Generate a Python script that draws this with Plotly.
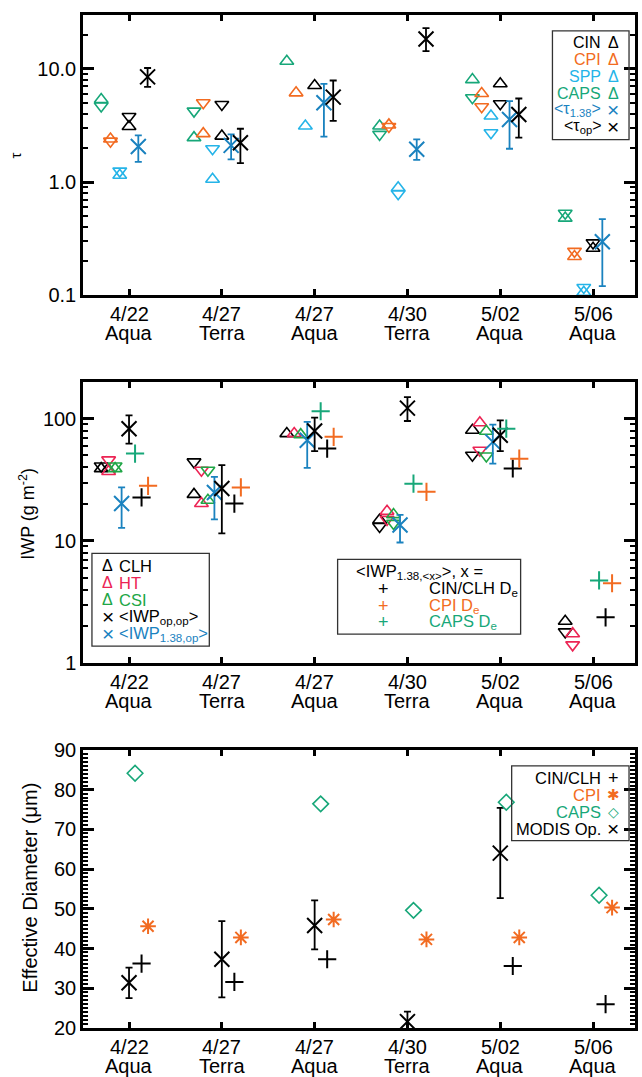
import plotly.graph_objects as go

# ---------------- data ----------------
dates = ["4/22", "4/27", "4/27", "4/30", "5/02", "5/06"]
sats = ["Aqua", "Terra", "Aqua", "Terra", "Aqua", "Aqua"]

# Panel 1: optical depth tau (up / down triangles)
tau_cin_up = [3.1, 2.55, 7.14, None, 7.39, 0.26]
tau_cin_dn = [3.8, 4.85, None, None, 4.92, 0.29]
tau_cpi_up = [2.4, 2.68, 6.15, 3.2, 6.07, 0.22]
tau_cpi_dn = [2.3, 5.02, None, 3.1, 4.63, 0.244]
tau_spp_up = [1.15, 1.06, 3.13, 0.89, 3.84, 0.106]
tau_spp_dn = [1.25, 1.97, None, 0.79, 2.73, 0.117]
tau_caps_up = [5.37, 2.47, 11.7, 3.13, 8.05, 0.48]
tau_caps_dn = [4.70, 4.24, None, 2.64, 5.56, 0.53]
tau_138 = [2.06, 2.11, 5.02, 1.95, 3.58, 0.297]
tau_138_hi = [2.59, 2.64, 7.39, 2.38, 5.2, 0.47]
tau_138_lo = [1.51, 1.59, 2.52, 1.57, 1.97, 0.12]
tau_op = [8.51, 2.23, 5.64, 18.4, 3.96, None]
tau_op_hi = [10.2, 2.96, 7.91, 23.0, 5.48, None]
tau_op_lo = [6.95, 1.47, 3.47, 14.4, 2.47, None]

# Panel 2: IWP (g m-2)
iwp_clh_up = [39, 24.0, 75.5, 14.8, 80.4, 2.2]
iwp_clh_dn = [41, 44.3, None, 13.1, 50.2, 1.8]
iwp_ht_up = [37, 20.2, 75.5, 17.5, 92.7, 1.74]
iwp_ht_dn = [46, 37.9, None, 15.0, 55.2, 1.41]
iwp_csi_up = [39, 21.5, 74, 16.4, 78.9, None]
iwp_csi_dn = [41, 37.9, None, 13.9, 49.5, None]
iwp_138 = [20.2, 24.9, 66.7, 13.5, 64.6, None]
iwp_138_hi = [27.4, 33.4, 94, 16.3, 89.3, None]
iwp_138_lo = [12.8, 15.0, 39.6, 9.7, 42.9, None]
iwp_op = [82.8, 26.8, 79.4, 122, 73.1, None]
iwp_op_hi = [106.6, 41.7, 102, 150, 97, None]
iwp_op_lo = [62.5, 11.5, 54.2, 95.7, 54.2, None]
iwp_cin_de = [22.7, 20.2, 56.9, None, 39.1, 2.37]
iwp_cpi_de = [28.2, 27.4, 71, 25.2, 47.1, 4.5]
iwp_caps_de = [51.8, None, 115, 29.4, 82.8, 4.75]

# Panel 3: effective diameter (um)
de_modis = [31.4, 37.3, 45.8, 21.6, 64.0, None]
de_modis_hi = [35.2, 46.9, 52.1, 24.1, 75.4, None]
de_modis_lo = [27.5, 27.7, 39.8, 19.0, 52.7, None]
de_cin = [36.2, 31.6, 37.3, None, 35.6, 26.0]
de_cpi = [45.6, 42.8, 47.3, 42.3, 42.8, 50.3]
de_caps = [84.1, None, 76.4, 49.6, 76.8, 53.4]

# ---------------- style ----------------
BLACK = "#000000"
ORANGE = "#F26B21"
SPPBLUE = "#25B4E8"
TEAL = "#17A779"
BLUE = "#1A82BF"
CRIMSON = "#EC2454"
GREEN = "#20A646"
FONT = "Liberation Sans, Arial, sans-serif"

W, H = 642, 1077
PL, PR, PT, PB = 83, 638, 12, 1028


def fx(px):
    return (px - PL) / (PR - PL)


def fy(py):
    return (PB - py) / (PB - PT)


fig = go.Figure()


def add(vals, off, symbol, color, size, ax, lw=1.6, hi=None, lo=None):
    xs = [i + off for i in range(len(vals))]
    tr = dict(x=xs, y=vals, mode="markers", showlegend=False,
              xaxis="x" if ax == 1 else f"x{ax}",
              yaxis="y" if ax == 1 else f"y{ax}",
              marker=dict(symbol=symbol, size=size, color=color,
                          line=dict(color=color, width=lw)),
              cliponaxis=True)
    if hi is not None:
        tr["error_y"] = dict(type="data", symmetric=False,
                             array=[(h - v) if v is not None else 0 for h, v in zip(hi, vals)],
                             arrayminus=[(v - l) if v is not None else 0 for l, v in zip(lo, vals)],
                             color=color, thickness=1.8, width=3.5)
    fig.add_trace(go.Scatter(**tr))


TRI = 12
# panel 1
add(tau_caps_up, -0.3, "triangle-up-open", TEAL, TRI, 1)
add(tau_caps_dn, -0.3, "triangle-down-open", TEAL, TRI, 1)
add(tau_cpi_up, -0.2, "triangle-up-open", ORANGE, TRI, 1)
add(tau_cpi_dn, -0.2, "triangle-down-open", ORANGE, TRI, 1)
add(tau_spp_up, -0.1, "triangle-up-open", SPPBLUE, TRI, 1)
add(tau_spp_dn, -0.1, "triangle-down-open", SPPBLUE, TRI, 1)
add(tau_cin_up, 0.0, "triangle-up-open", BLACK, TRI, 1)
add(tau_cin_dn, 0.0, "triangle-down-open", BLACK, TRI, 1)
add(tau_138, 0.1, "x-thin-open", BLUE, 15, 1, lw=2, hi=tau_138_hi, lo=tau_138_lo)
add(tau_op, 0.2, "x-thin-open", BLACK, 15, 1, lw=2, hi=tau_op_hi, lo=tau_op_lo)

# panel 2
add(iwp_clh_up, -0.3, "triangle-up-open", BLACK, TRI, 2)
add(iwp_clh_dn, -0.3, "triangle-down-open", BLACK, TRI, 2)
add(iwp_ht_up, -0.22, "triangle-up-open", CRIMSON, TRI, 2)
add(iwp_ht_dn, -0.22, "triangle-down-open", CRIMSON, TRI, 2)
add(iwp_csi_up, -0.15, "triangle-up-open", GREEN, TRI, 2)
add(iwp_csi_dn, -0.15, "triangle-down-open", GREEN, TRI, 2)
add(iwp_138, -0.08, "x-thin-open", BLUE, 15, 2, lw=2, hi=iwp_138_hi, lo=iwp_138_lo)
add(iwp_op, 0.0, "x-thin-open", BLACK, 15, 2, lw=2, hi=iwp_op_hi, lo=iwp_op_lo)
add(iwp_caps_de, 0.065, "cross-thin-open", TEAL, 13, 2, lw=2)
add(iwp_cin_de, 0.135, "cross-thin-open", BLACK, 13, 2, lw=2)
add(iwp_cpi_de, 0.205, "cross-thin-open", ORANGE, 13, 2, lw=2)

# panel 3
add(de_modis, 0.0, "x-thin-open", BLACK, 15, 3, lw=2, hi=de_modis_hi, lo=de_modis_lo)
add(de_caps, 0.065, "diamond-open", TEAL, 12, 3, lw=1.6)
add(de_cin, 0.135, "cross-thin-open", BLACK, 13, 3, lw=2)
add(de_cpi, 0.205, "asterisk-open", ORANGE, 13, 3, lw=2)

# ---------------- axes ----------------
XR = [-0.496, 5.452]
xcommon = dict(range=XR, tickmode="array", tickvals=list(range(6)), showticklabels=False,
               ticks="inside", ticklen=6, tickwidth=2.5, tickcolor="black",
               showline=True, linewidth=2.5, linecolor="black", mirror="allticks",
               showgrid=False, zeroline=False)
ycommon = dict(ticks="inside", ticklen=11, tickwidth=2.5, tickcolor="black",
               showline=True, linewidth=2.5, linecolor="black", mirror="allticks",
               showgrid=False, zeroline=False,
               tickfont=dict(family=FONT, size=20, color="black"))

minor1 = [k * 10 ** e for e in (-1, 0, 1) for k in range(2, 10) if k * 10 ** e <= 30]
minor2 = [k * 10 ** e for e in (0, 1, 2) for k in range(2, 10) if k * 10 ** e <= 200]

dom1 = [fy(293), 1.0]
dom2 = [fy(662), fy(380)]
dom3 = [0.0, fy(749)]

fig.update_layout(
    width=W, height=H,
    margin=dict(l=PL, r=W - PR, t=PT, b=H - PB),
    paper_bgcolor="white", plot_bgcolor="white",
    font=dict(family=FONT, color="black"),
    xaxis=dict(**xcommon, anchor="y"),
    xaxis2=dict(**xcommon, anchor="y2"),
    xaxis3=dict(**xcommon, anchor="y3"),
    yaxis=dict(**ycommon, type="log", range=[-1, 1.4771], domain=dom1, anchor="x",
               tickmode="array", tickvals=[0.1, 1, 10], ticktext=["0.1", "1.0", "10.0"],
               minor=dict(tickmode="array", tickvals=minor1, ticks="inside", ticklen=5,
                          tickwidth=2, tickcolor="black")),
    yaxis2=dict(**ycommon, type="log", range=[0, 2.301], domain=dom2, anchor="x2",
                tickmode="array", tickvals=[1, 10, 100], ticktext=["1", "10", "100"],
                minor=dict(tickmode="array", tickvals=minor2, ticks="inside", ticklen=5,
                           tickwidth=2, tickcolor="black")),
    yaxis3=dict(**ycommon, range=[20, 90], domain=dom3, anchor="x3",
                tickmode="linear", tick0=20, dtick=10,
                minor=dict(dtick=1, ticks="inside", ticklen=5, tickwidth=1.5,
                           tickcolor="black")),
)

ann = []
shapes = []

# x category labels (two lines)
for k, yref in ((1, "y domain"), (2, "y2 domain"), (3, "y3 domain")):
    xref = "x" if k == 1 else f"x{k}"
    for i in range(6):
        ann.append(dict(x=i, xref=xref, y=0, yref=yref, yshift=-19, text=dates[i],
                        showarrow=False, yanchor="middle",
                        font=dict(size=20, family=FONT, color="black")))
        ann.append(dict(x=i, xref=xref, y=0, yref=yref, yshift=-37.5, text=sats[i],
                        showarrow=False, yanchor="middle",
                        font=dict(size=20, family=FONT, color="black")))

# axis titles
ann.append(dict(x=fx(15), y=fy(152.5), xref="paper", yref="paper", text="τ", textangle=-90,
                showarrow=False, font=dict(size=15, family=FONT), xanchor="center", yanchor="middle"))
ann.append(dict(x=fx(27), y=fy(512), xref="paper", yref="paper", text="IWP (g m<sup>-2</sup>)",
                textangle=-90, showarrow=False, font=dict(size=18, family=FONT),
                xanchor="center", yanchor="middle"))
ann.append(dict(x=fx(30), y=fy(887), xref="paper", yref="paper", text="Effective Diameter (μm)",
                textangle=-90, showarrow=False, font=dict(size=20, family=FONT),
                xanchor="center", yanchor="middle"))


def box(x0, y0, x1, y1):
    shapes.append(dict(type="rect", xref="paper", yref="paper", x0=fx(x0), x1=fx(x1),
                       y0=fy(y1), y1=fy(y0), line=dict(color="#333333", width=1.3),
                       fillcolor="rgba(0,0,0,0)"))


def txt(px, py, text, color, size=16, xanchor="left", family=FONT):
    ann.append(dict(x=fx(px), y=fy(py), xref="paper", yref="paper", text=text,
                    showarrow=False, xanchor=xanchor, yanchor="middle",
                    font=dict(size=size, family=family, color=color)))


# legend panel 1
box(555, 28, 632, 137)
leg1 = [("CIN", BLACK, "Δ"), ("CPI", ORANGE, "Δ"), ("SPP", SPPBLUE, "Δ"), ("CAPS", TEAL, "Δ"),
        ("&lt;τ<sub>1.38</sub>&gt;", BLUE, "×"), ("&lt;τ<sub>op</sub>&gt;", BLACK, "×")]
for j, (t, c, s) in enumerate(leg1):
    py = 40 + j * 16.8
    txt(606, py, t, c, 16, "right")
    txt(616, py, s, c, 16 if s == "Δ" else 21, "center")

# legend panel 2 (left)
box(92, 552, 210, 645)
leg2 = [("Δ", "CLH", BLACK), ("Δ", "HT", CRIMSON), ("Δ", "CSI", GREEN),
        ("×", "&lt;IWP<sub>op,op</sub>&gt;", BLACK), ("×", "&lt;IWP<sub>1.38,op</sub>&gt;", BLUE)]
for j, (s, t, c) in enumerate(leg2):
    py = 564.5 + j * 17
    txt(108, py, s, c, 16 if s == "Δ" else 21, "center")
    txt(117, py, t, c, 16.5, "left")

# legend panel 2 (right)
box(339, 558, 523, 633)
txt(355, 571, "&lt;IWP<sub>1.38,&lt;x&gt;</sub>&gt;, x =", BLACK, 16.5, "left")
leg3 = [("CIN/CLH D<sub>e</sub>", BLACK), ("CPI D<sub>e</sub>", ORANGE), ("CAPS D<sub>e</sub>", TEAL)]
for j, (t, c) in enumerate(leg3):
    py = 588 + j * 16.3
    txt(385, py, "+", c, 18, "center")
    txt(429, py, t, c, 16.5, "left")

# legend panel 3
box(514, 765, 632, 840)
leg4 = [("CIN/CLH", BLACK, "+", FONT, 18), ("CPI", ORANGE, "✱", "DejaVu Sans", 15),
        ("CAPS", TEAL, "◇", "DejaVu Sans", 14), ("MODIS Op.", BLACK, "×", FONT, 21)]
for j, (t, c, s, fam, sz) in enumerate(leg4):
    py = 777 + j * 17
    txt(606, py, t, c, 16.5, "right")
    txt(616, py, s, c, sz, "center", family=fam)

fig.update_layout(annotations=ann, shapes=shapes)
fig.write_html("out.html")
